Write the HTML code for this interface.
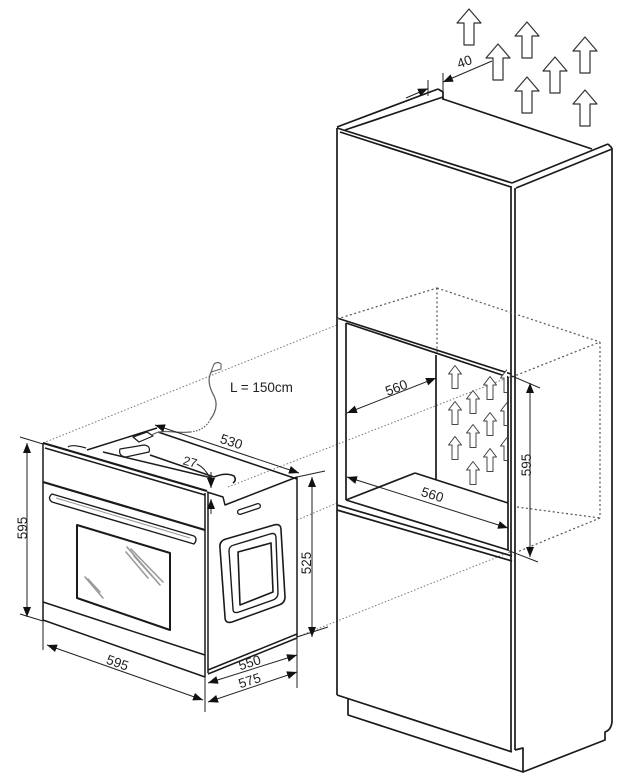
<!DOCTYPE html>
<html><head><meta charset="utf-8">
<style>html,body{margin:0;padding:0;background:#fff}svg{display:block}</style>
</head><body>
<svg width="624" height="780" viewBox="0 0 624 780" xmlns="http://www.w3.org/2000/svg" font-family="'Liberation Sans', Arial, sans-serif">
<rect width="624" height="780" fill="#fff"/>
<defs>
  <marker id="a" markerUnits="userSpaceOnUse" markerWidth="10" markerHeight="8" refX="10" refY="4" orient="auto-start-reverse">
    <path d="M0,0 L10,4 L0,8 z" fill="#111"/>
  </marker>
  <path id="bigA" d="M0,-18 L12,-4 L5,-4 L5,18 L-5,18 L-5,-4 L-12,-4 Z" fill="#fff" stroke="#333" stroke-width="1.2" stroke-linejoin="round"/>
  <path id="smA" d="M0,-11.5 L6.5,-3 L3,-3 L3,11.5 L-3,11.5 L-3,-3 L-6.5,-3 Z" fill="#fff" stroke="#444" stroke-width="1" stroke-linejoin="round"/>
  <clipPath id="nicheClip"><rect x="437" y="350" width="70" height="140"/></clipPath>
</defs>

<!-- ===== Long dotted projection lines ===== -->
<g stroke="#777" stroke-width="1" stroke-dasharray="1.5 2" fill="none">
  <line x1="43" y1="443" x2="337" y2="325"/>
  <line x1="228" y1="487" x2="512" y2="376"/>
  <line x1="297" y1="520" x2="337" y2="503"/>
  <line x1="297" y1="637" x2="510" y2="552"/>
</g>

<!-- ===== Big vent arrows (top) ===== -->
<use href="#bigA" transform="translate(469,27)"/>
<use href="#bigA" transform="translate(527,40)"/>
<use href="#bigA" transform="translate(498,62)"/>
<use href="#bigA" transform="translate(585,55)"/>
<use href="#bigA" transform="translate(555,75)"/>
<use href="#bigA" transform="translate(527,95)"/>
<use href="#bigA" transform="translate(585,108)"/>

<!-- ===== Cabinet ===== -->
<g stroke="#1a1a1a" stroke-width="1.7" fill="none" stroke-linejoin="round">
  <!-- top surface -->
  <line x1="337" y1="127" x2="438" y2="89"/>
  <line x1="345" y1="130" x2="443" y2="97"/>
  <polyline points="438,89 443,92 443,100"/>
  <line x1="443" y1="99" x2="592" y2="149"/>
  <line x1="337" y1="128" x2="512" y2="183"/>
  <line x1="340" y1="132" x2="511" y2="187"/>
  <line x1="512" y1="183" x2="608" y2="144"/>
  <line x1="516" y1="188" x2="612" y2="149"/>
  <line x1="608" y1="144" x2="612" y2="148"/>
  <!-- right side panel -->
  <path d="M612,148 L612,722 Q611,730 605,732 L605,740 L523,772"/>
  <line x1="511" y1="186" x2="511" y2="752"/>
  <line x1="515" y1="188" x2="515" y2="750"/>
  <!-- upper door -->
  <line x1="337" y1="128" x2="337" y2="695"/>
  <line x1="337" y1="318" x2="511" y2="374"/>
  <!-- niche frame -->
  <line x1="346" y1="323" x2="508" y2="377"/>
  <line x1="346" y1="323" x2="346" y2="500"/>
  <line x1="508" y1="377" x2="508" y2="550"/>
  <line x1="346" y1="500" x2="508" y2="550"/>
  <!-- niche interior -->
  <line x1="436" y1="355" x2="436" y2="480"/>
  <line x1="346" y1="500" x2="415" y2="473"/>
  <line x1="415" y1="473" x2="508" y2="503"/>
  <!-- lower door -->
  <line x1="337" y1="505" x2="512" y2="556"/>
  <line x1="337" y1="510" x2="512" y2="561"/>
  <line x1="337" y1="695" x2="512" y2="752"/>
  <!-- plinth -->
  <polyline points="348,699 348,715 523,772 523,748 515,750"/>
</g>

<!-- niche dotted box -->
<g stroke="#555" stroke-width="1.2" stroke-dasharray="2 2.5" fill="none">
  <line x1="337" y1="319" x2="437" y2="288"/>
  <line x1="437" y1="288" x2="600" y2="342"/>
  <line x1="512" y1="377" x2="600" y2="342"/>
  <line x1="437" y1="288" x2="437" y2="355"/>
  <line x1="600" y1="342" x2="600" y2="518"/>
  <line x1="517" y1="507" x2="600" y2="518"/>
  <line x1="600" y1="518" x2="517" y2="552"/>
</g>

<!-- small arrows in niche -->
<g clip-path="url(#nicheClip)">
  <use href="#smA" transform="translate(455,377)"/>
  <use href="#smA" transform="translate(490,388)"/>
  <use href="#smA" transform="translate(473,402)"/>
  <use href="#smA" transform="translate(455,413)"/>
  <use href="#smA" transform="translate(490,424)"/>
  <use href="#smA" transform="translate(473,436)"/>
  <use href="#smA" transform="translate(455,448)"/>
  <use href="#smA" transform="translate(490,460)"/>
  <use href="#smA" transform="translate(473,473)"/>
  <use href="#smA" transform="translate(507,381)"/>
  <use href="#smA" transform="translate(507,414)"/>
  <use href="#smA" transform="translate(507,449)"/>
</g>

<!-- cabinet dimensions -->
<g stroke="#222" stroke-width="1" fill="none">
  <!-- 40 -->
  <line x1="428" y1="80" x2="428" y2="96"/>
  <line x1="443" y1="73" x2="443" y2="92"/>
  <line x1="406" y1="98" x2="428" y2="88.5" marker-end="url(#a)"/>
  <line x1="492" y1="61" x2="443" y2="82" marker-end="url(#a)"/>
  <!-- 560 upper -->
  <line x1="347" y1="413" x2="436" y2="378" marker-start="url(#a)" marker-end="url(#a)"/>
  <!-- 560 lower -->
  <line x1="347" y1="477" x2="508" y2="528" marker-start="url(#a)" marker-end="url(#a)"/>
  <!-- 595 right -->
  <line x1="512" y1="376" x2="540" y2="388"/>
  <line x1="507" y1="550" x2="538" y2="562"/>
  <line x1="530" y1="383" x2="530" y2="557" marker-start="url(#a)" marker-end="url(#a)"/>
</g>
<g fill="#222" font-size="13.5">
  <text transform="translate(466,66) rotate(-20)" text-anchor="middle">40</text>
  <text transform="translate(398,392) rotate(-21)" text-anchor="middle">560</text>
  <text transform="translate(431,499) rotate(17.6)" text-anchor="middle">560</text>
  <text transform="translate(531,465) rotate(-90)" text-anchor="middle">595</text>
</g>

<!-- ===== Oven ===== -->
<g stroke="#1a1a1a" stroke-width="1.5" fill="none" stroke-linejoin="round">
  <!-- body top -->
  <line x1="87" y1="450" x2="157" y2="428"/>
  <line x1="158" y1="432" x2="297" y2="479"/>
  <line x1="103" y1="452" x2="212" y2="478"/>
  <path d="M150,455 L214,477 Q226,472 234,476 Q237,480 233,483"/>
  <!-- fan cover -->
  <path d="M120,449 L144,445 Q151,446 149,452 L126,457 Q118,456 120,449 Z" stroke-width="1.2"/>
  <!-- cable box -->
  <polygon points="133,437 147,432 153,436 139,442" stroke-width="1.2"/>
  <!-- front panel -->
  <line x1="43" y1="443" x2="207" y2="491" stroke-width="2.2"/>
  <line x1="45" y1="448" x2="205" y2="495"/>
  <path d="M68,447 Q72,444 86,448" stroke-width="1.2"/>
  <line x1="43" y1="443" x2="43" y2="621"/>
  <line x1="205" y1="493" x2="205" y2="677"/>
  <line x1="208" y1="492" x2="208" y2="673"/>
  <line x1="43" y1="482" x2="205" y2="530" stroke-width="2.2"/>
  <!-- handle -->
  <path d="M52,494 L194,536 Q198,539 194,544 L52,502 Q47,498 52,494 Z" stroke-width="1.4"/>
  <line x1="56" y1="498" x2="190" y2="538" stroke="#999" stroke-width="1"/>
  <!-- window -->
  <polygon points="77,525 170,553 170,630 77,598" stroke-width="2"/>
  <!-- door bottom & base -->
  <line x1="43" y1="602" x2="205" y2="655"/>
  <line x1="43" y1="620" x2="205" y2="677"/>
  <!-- side -->
  <polyline points="207,492 223,497 225,505 297,477"/>
  <line x1="297" y1="477" x2="297" y2="637"/>
  <line x1="208" y1="670" x2="297" y2="634"/>
  <line x1="208" y1="674" x2="297" y2="638"/>
  <!-- vent -->
  <path d="M226,539 L274,525 Q281,523 281,530 L285,597 Q285,603 279,605 L232,622 Q225,624 225,617 L220,548 Q219,541 226,539 Z" stroke-width="1.6"/>
  <path d="M234,545 L270,534 Q276,532 276,538 L278,593 Q278,598 273,600 L239,612 Q233,614 233,609 L229,551 Q229,546 234,545 Z" stroke-width="1.4"/>
  <polygon points="238,552 271,543 273,592 240,605" stroke-width="1.6"/>
</g>
<!-- side slot -->
<line x1="240" y1="512" x2="258" y2="506" stroke="#1c1c1c" stroke-width="6" stroke-linecap="round"/>
<line x1="240" y1="512" x2="258" y2="506" stroke="#fff" stroke-width="3.4" stroke-linecap="round"/>
<!-- window reflections -->
<g stroke="#9a9a9a" stroke-width="1.6" stroke-linecap="round">
  <line x1="127" y1="547" x2="160" y2="585"/>
  <line x1="131" y1="549" x2="163" y2="582"/>
  <line x1="134" y1="556" x2="152" y2="576"/>
  <line x1="126" y1="552" x2="148" y2="578"/>
  <line x1="85" y1="577" x2="103" y2="598"/>
  <line x1="88" y1="579" x2="100" y2="592"/>
</g>
<!-- cable -->
<g stroke="#666" stroke-width="1.3" fill="none">
  <path d="M152,435 C162,428 176,434 190,432"/>
  <path d="M190,432 C200,431 206,427 210,420" stroke-dasharray="1.5 1.5"/>
  <path d="M210,420 C216,412 218,404 214,396 C209,387 207,378 212,371"/>
  <path d="M211,372 L214,364 Q218,361 221,364 L221,369 Z" stroke-width="1.1"/>
</g>

<!-- oven dimensions -->
<g stroke="#222" stroke-width="1" fill="none">
  <!-- 595 left -->
  <line x1="20" y1="437" x2="43" y2="444"/>
  <line x1="20" y1="614" x2="43" y2="621"/>
  <line x1="27" y1="443" x2="27" y2="617" marker-start="url(#a)" marker-end="url(#a)"/>
  <!-- 595 bottom -->
  <line x1="43" y1="621" x2="43" y2="650"/>
  <line x1="205" y1="677" x2="205" y2="712"/>
  <line x1="47" y1="645" x2="203" y2="700" marker-start="url(#a)" marker-end="url(#a)"/>
  <!-- 550 / 575 -->
  <line x1="297" y1="637" x2="297" y2="688"/>
  <line x1="208" y1="683" x2="297" y2="655" marker-start="url(#a)" marker-end="url(#a)"/>
  <line x1="208" y1="702" x2="297" y2="672" marker-start="url(#a)" marker-end="url(#a)"/>
  <!-- 525 -->
  <line x1="297" y1="477" x2="325" y2="471"/>
  <line x1="297" y1="637" x2="328" y2="627"/>
  <line x1="312" y1="477" x2="312" y2="637" marker-start="url(#a)" marker-end="url(#a)"/>
  <!-- 530 -->
  <line x1="155" y1="425" x2="299" y2="473" marker-start="url(#a)" marker-end="url(#a)"/>
  <!-- 27 -->
  <line x1="211" y1="472" x2="211" y2="488" marker-end="url(#a)"/>
  <line x1="211" y1="514" x2="211" y2="499" marker-end="url(#a)"/>
  <path d="M197,464 Q205,468 210,478"/>
</g>
<g fill="#222" font-size="13.5">
  <text transform="translate(27,528) rotate(-90)" text-anchor="middle">595</text>
  <text transform="translate(116,667) rotate(19.4)" text-anchor="middle">595</text>
  <text transform="translate(251,667) rotate(-17.5)" text-anchor="middle">550</text>
  <text transform="translate(251,685) rotate(-17.5)" text-anchor="middle">575</text>
  <text transform="translate(311,563) rotate(-90)" text-anchor="middle">525</text>
  <text transform="translate(230,446) rotate(18.4)" text-anchor="middle">530</text>
  <text transform="translate(189,466) rotate(15)" text-anchor="middle" font-size="12.5">27</text>
  <text x="230" y="392" font-size="13.5">L = 150cm</text>
</g>
</svg>
</body></html>
